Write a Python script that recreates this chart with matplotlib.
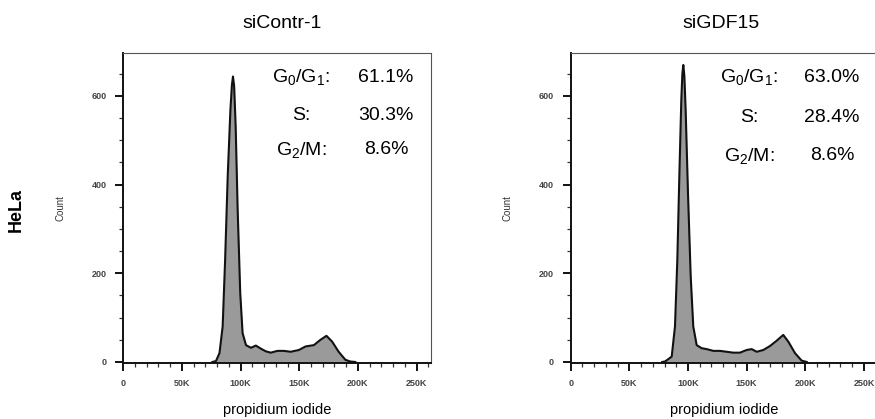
import matplotlib
matplotlib.use("Agg")
import matplotlib.pyplot as plt
from matplotlib.ticker import MultipleLocator

plt.rcParams['font.family'] = ['Liberation Sans', 'DejaVu Sans']
plt.rcParams['mathtext.fontset'] = 'custom'
plt.rcParams['mathtext.rm'] = 'Liberation Sans'
plt.rcParams['mathtext.it'] = 'Liberation Sans'

# propidium iodide intensity (in K) and counts
ctrl_x = [76, 79, 82, 84.7, 86.8, 89, 91.3, 92.6, 93.5, 94.5, 95.8, 97.5, 99.7, 101.7,
          104.6, 108.8, 113, 117.3, 121.5, 125.7, 131.4, 137, 142.7, 149.7, 155.4,
          162.5, 168.1, 173.2, 178, 183.6, 189.3, 193.5, 197.8]
ctrl_y = [0, 2, 20, 80, 230, 418, 568, 625, 644, 622, 531, 343, 155, 65,
          38, 32, 37, 30, 24, 21, 25, 25, 23, 27, 35,
          38, 50, 59, 46, 23, 5, 1, 0]

gdf_x = [78, 80.4, 86.1, 88.9, 90.9, 92.6, 94.3, 95.2, 96, 96.9, 98, 100, 102.3, 104.5,
         107.4, 111.7, 115.9, 121.6, 127.3, 133, 138.6, 144.3, 150, 154.3, 158.6,
         164.2, 169.9, 175.6, 181.2, 185.5, 191.2, 196.9, 201.2]
gdf_y = [0, 1, 12, 80, 230, 418, 591, 650, 670, 645, 568, 380, 193, 80,
         38, 31, 29, 25, 25, 23, 21, 21, 27, 29, 23,
         27, 36, 48, 61, 46, 20, 3, 0]

titles = ['siContr-1', 'siGDF15']
phases = ['G$_0$/G$_1$:', 'S:', 'G$_2$/M:']
ctrl_pct = ['61.1%', '30.3%', '8.6%']
gdf_pct = ['63.0%', '28.4%', '8.6%']

xticks = [0, 50, 100, 150, 200, 250]
xticklabels = ['0', '50K', '100K', '150K', '200K', '250K']
yticks = [0, 200, 400, 600]

W, H = 875, 419
fig = plt.figure(figsize=(W / 100, H / 100), dpi=100)


def px(x, y):
    return x / W, 1 - y / H


def panel(left, x, y, title, pct, title_x, lab_x, val_x, rows):
    ax = fig.add_axes([left / W, (H - 363.3) / H, 307.5 / W, 310.3 / H])
    ax.fill_between(x, y, 0, color='#9a9a9a', lw=0)
    ax.plot(x, y, color='#111111', lw=1.5)
    ax.set_xlim(0, 262.144)
    ax.set_ylim(-3, 697)
    ax.set_xticks(xticks)
    ax.set_xticklabels(xticklabels)
    ax.set_yticks(yticks)
    ax.xaxis.set_minor_locator(MultipleLocator(10))
    ax.yaxis.set_minor_locator(MultipleLocator(50))
    ax.tick_params(which='major', length=6, width=1.4, color='#111111',
                   labelsize=6.5, labelcolor='#444444')
    ax.tick_params(axis='x', which='major', pad=5)
    ax.tick_params(axis='y', which='major', pad=6)
    ax.tick_params(which='minor', length=3, width=0.9, color='#333333')
    for lab in ax.get_xticklabels() + ax.get_yticklabels():
        lab.set_fontweight('bold')
    for side in ['left', 'bottom']:
        ax.spines[side].set_linewidth(1.4)
        ax.spines[side].set_color('#111111')
    for side in ['top', 'right']:
        ax.spines[side].set_linewidth(0.8)
        ax.spines[side].set_color('#555555')
    ax.set_xlabel('propidium iodide', fontsize=10.5, labelpad=11)
    ax.set_ylabel('Count', fontsize=7, labelpad=19, color='#333333')

    fig.text(*px(title_x, 24), title, fontsize=14, ha='center', va='center')
    for lab, val, ry in zip(phases, pct, rows):
        fig.text(*px(lab_x, ry), lab, fontsize=14, ha='center', va='center')
        fig.text(*px(val_x, ry), val, fontsize=14, ha='center', va='center')
    return ax


panel(123.3, ctrl_x, ctrl_y, titles[0], ctrl_pct, 282, 301, 386, [77, 116, 150])
panel(570.7, gdf_x, gdf_y, titles[1], gdf_pct, 721, 749, 832, [77, 117, 156])

fig.text(*px(16, 210), 'HeLa', fontsize=13, fontweight='bold', rotation=90,
         ha='center', va='center')

fig.savefig('out.png', dpi=100)
